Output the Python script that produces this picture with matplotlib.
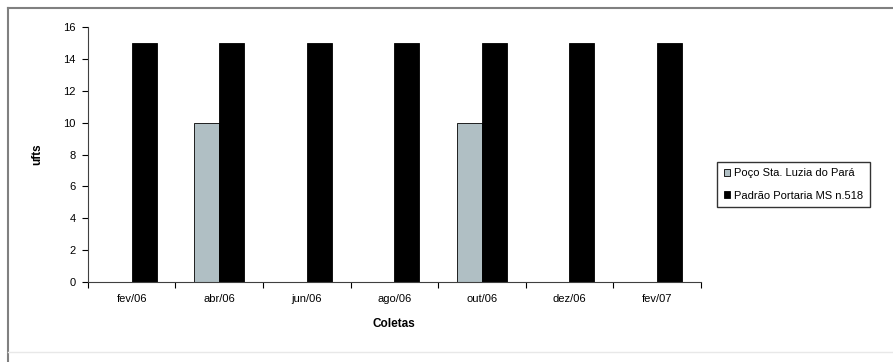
import numpy as np
import matplotlib.pyplot as plt
from matplotlib.lines import Line2D

plt.rcParams['font.family'] = ['Liberation Sans', 'DejaVu Sans']

coletas = ['fev/06', 'abr/06', 'jun/06', 'ago/06', 'out/06', 'dez/06', 'fev/07']
poco = [0, 10, 0, 0, 10, 0, 0]
padrao = [15, 15, 15, 15, 15, 15, 15]
series_labels = ['Poço Sta. Luzia do Pará', 'Padrão Portaria MS n.518']

fig = plt.figure(figsize=(8.93, 3.62), dpi=100)
ax = fig.add_axes([0.0985, 0.221, 0.686, 0.704])

# chart area border (top and left edges)
fig.add_artist(Line2D([0.009, 1.0], [0.978, 0.978], color='#808080', lw=1.5))
fig.add_artist(Line2D([0.009, 0.009], [0.0, 0.978], color='#808080', lw=1.5))
fig.add_artist(Line2D([0.009, 1.0], [0.028, 0.028], color='#e8e8e8', lw=1))

x = np.arange(len(coletas))
w = 0.286
ax.bar(x - w / 2, poco, w, color='#b0bfc4', edgecolor='black', linewidth=0.6,
       label=series_labels[0])
ax.bar(x + w / 2, padrao, w, color='black', edgecolor='black', linewidth=0.6,
       label=series_labels[1])

ax.set_xlim(-0.5, len(coletas) - 0.5)
ax.set_ylim(0, 16)
ax.set_yticks(range(0, 17, 2))
ax.set_xticks(x)
ax.set_xticklabels(coletas, fontsize=8)
ax.set_xticks(np.arange(-0.5, len(coletas), 1), minor=True)
ax.tick_params(axis='x', which='major', length=0, pad=9)
ax.tick_params(axis='x', which='minor', length=4, direction='out', width=0.8)
ax.tick_params(axis='y', length=4, direction='out', width=0.8, labelsize=8, pad=5)

ax.spines['top'].set_visible(False)
ax.spines['right'].set_visible(False)
ax.spines['left'].set_color('#404040')
ax.spines['bottom'].set_color('#404040')

ax.set_xlabel('Coletas', fontsize=8.5, fontweight='bold', labelpad=10)
ax.set_ylabel('ufts', fontsize=8.5, fontweight='bold', labelpad=14)

fig.legend(loc='upper left', bbox_to_anchor=(0.803, 0.553), fontsize=8,
           frameon=True, fancybox=False, edgecolor='black', handlelength=0.6,
           handleheight=0.6, handletextpad=0.3, borderpad=0.6, labelspacing=1.1,
           borderaxespad=0)

fig.savefig('out.png', dpi=100)
